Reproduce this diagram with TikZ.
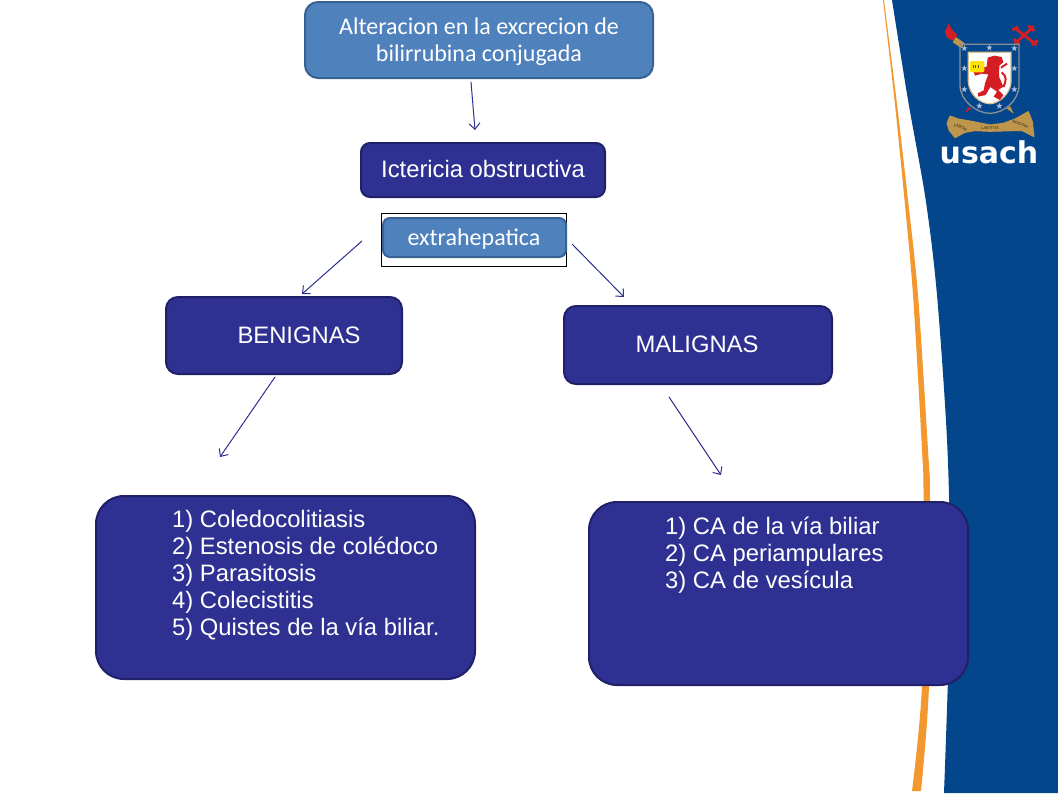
\documentclass[tikz,border=0pt]{standalone}
\usepackage{fontspec}
\setmainfont{Liberation Sans}
\newfontfamily\calibrifont{Carlito}
\newfontfamily\logofont{DejaVu Sans}
\usetikzlibrary{arrows.meta,shapes.geometric}
\definecolor{barblue}{RGB}{3,70,140}
\definecolor{barorange}{RGB}{242,152,46}
\definecolor{lightbox}{RGB}{79,129,189}
\definecolor{lightedge}{RGB}{56,98,146}
\definecolor{darkbox}{RGB}{46,49,146}
\definecolor{darkedge}{RGB}{32,32,104}
\definecolor{crestgold}{RGB}{190,150,75}
\definecolor{crestred}{RGB}{212,30,36}
\definecolor{creststar}{RGB}{170,185,215}
\tikzset{
  lightnode/.style={draw=lightedge,line width=2pt,fill=lightbox,inner sep=0pt},
  lighttext/.style={text=white,font=\calibrifont\fontsize{24}{27}\selectfont,align=center,inner sep=0pt},
  darknode/.style={draw=darkedge,line width=2pt,fill=darkbox,inner sep=0pt},
  boxtext/.style={text=white,font=\fontsize{23.8}{27}\selectfont,inner sep=0pt},
  listtext/.style={text=white,font=\fontsize{23.8}{26.8}\selectfont,align=left,
    inner sep=0pt,anchor=north west},
  flecha/.style={draw=darkbox,line width=1pt,-{Straight Barb[length=6pt,width=11pt]}},
  crestmark/.style={star,star points=5,star point ratio=2.4,fill=creststar,
    inner sep=0pt,minimum size=6.5pt},
  mottotext/.style={text=black!85,font=\fontsize{4}{4}\selectfont,inner sep=0pt}
}
\begin{document}
\begin{tikzpicture}[x=1pt,y=-1pt]
\useasboundingbox (0,0) rectangle (1058,793);
\fill[white] (0,0) rectangle (1058,793);

% The blue bar and the orange stripe
\fill[barblue] plot[smooth] coordinates {(892,0) (908,100) (925.7,200) (937,295) (947.5,450) (950,600) (944,793)}
  -- (1058,793) -- (1058,0) -- cycle;
\fill[barorange] plot[smooth] coordinates {(883,0) (894.5,100) (904.5,200) (913,295) (922,450) (923.5,500) (922,685) (912,791)}
  -- plot[smooth] coordinates {(921,791) (929,685) (930,500) (928,450) (918,295) (908,200) (896.5,100) (884,0)} -- cycle;

% The crest, in pixels of a crop of it
\begin{scope}[shift={(935,15)},scale=1/3]
  \fill[crestred] (40,25) -- (30,52) -- (38,70) -- (60,78) -- (66,60) -- (50,42) -- cycle;
  \draw[crestgold,line width=6pt] (58,74) -- (84,92);
  \draw[crestred,line width=2.8pt] (238,38) -- (305,90) (240,86) -- (296,34);
  \draw[crestred,line width=2.8pt] (280,32) -- (298,48) (232,45) -- (250,36) (290,90) -- (308,76) (236,72) -- (254,88);
  \fill[crestred] (92,292) -- (98,277) -- (110,280) -- cycle;
  \fill[crestgold] (214,280) -- (226,274) -- (236,296) -- cycle;
  \draw[gray!75!creststar,line width=1.3pt] (75,88) -- (252,88) -- (252,210)
    .. controls (252,258) and (205,295) .. (165,295) .. controls (125,295) and (75,258) .. (75,210) -- cycle;
  \fill[crestgold!60!white] (98,110) -- (230,110) -- (230,200)
    .. controls (228,240) and (190,268) .. (165,268) .. controls (135,268) and (100,240) .. (98,200) -- cycle;
  \fill[white] (102,114) -- (226,114) -- (226,200)
    .. controls (224,238) and (188,264) .. (165,264) .. controls (138,264) and (104,238) .. (102,200) -- cycle;
  % The lion
  \fill[crestred] (158,128) -- (178,122) -- (200,126) -- (205,142) -- (193,152) -- (192,185)
    -- (205,215) -- (190,225) -- (205,240) -- (195,255) -- (176,245) -- (186,230) -- (166,216)
    -- (152,240) -- (130,245) -- (128,235) -- (146,226) -- (150,205) -- (160,178) -- (140,176)
    -- (120,182) -- (115,168) -- (136,160) -- (155,155) -- cycle;
  \draw[crestred,line width=2pt] (198,158) -- (216,146) (200,172) .. controls (216,182) and (214,200) .. (205,216);
  \fill[yellow!85!orange,rounded corners=2pt] (105,138) rectangle (148,172);
  \draw[black!70,line width=0.7pt] (115,150) -- (115,160) (122,150) -- (122,160) (130,150) -- (130,160);
  % The stars
  \foreach \sx/\sy [count=\i] in {88/100,163/98,238/100,88/160,238/160,88/223,238/223,133/273,193/273}
    \node[crestmark] (star\i) at (\sx,\sy) {};
  % The ribbon
  \fill[crestgold,draw=crestgold,line width=1pt,line join=round] (45,303) -- (70,312) -- (105,318) -- (125,322) -- (165,330)
    -- (205,325) -- (240,312) -- (280,290) -- (292,320) -- (297,365) -- (262,347) -- (235,347)
    -- (165,349) -- (120,347) -- (90,352) -- (60,368) -- (42,345) -- (36,325) -- cycle;
  \node[mottotext,rotate=-22] (mottoa) at (76,337) {LABOR};
  \node[mottotext] (mottob) at (165,338) {LAETITIA};
  \node[mottotext,rotate=-24] (mottoc) at (256,328) {NOSTRA};
\end{scope}
\node[text=white,inner sep=0pt,font=\logofont\bfseries\fontsize{30}{30}\selectfont] (usach) at (989,152) {usach};

% The boxes
\node[lightnode,rounded corners=13pt,minimum width=348pt,minimum height=76pt] (alteracion) at (479,40) {};
\node[lighttext] (alteraciontxt) at (479,41.5) {Alteracion en la excrecion de\\bilirrubina conjugada};
\node[darknode,rounded corners=9pt,minimum width=244pt,minimum height=54pt] (ictericia) at (483,170) {};
\node[boxtext] (ictericiatxt) at (483,169) {Ictericia obstructiva};
\node[draw=black,line width=0.7pt,inner sep=0pt,minimum width=185pt,minimum height=53.5pt] (marco) at (474,239.7) {};
\node[lightnode,rounded corners=7pt,minimum width=183pt,minimum height=39pt] (extrahepatica) at (474.5,237.5) {};
\node[lighttext] (extrahepaticatxt) at (474,239.5) {extrahepatica};
\node[darknode,rounded corners=12pt,minimum width=236pt,minimum height=77pt] (benignas) at (284,335.5) {};
\node[boxtext] (benignastxt) at (299,335) {BENIGNAS};
\node[darknode,rounded corners=12pt,minimum width=268pt,minimum height=78pt] (malignas) at (698,345) {};
\node[boxtext] (malignastxt) at (697,344) {MALIGNAS};
\node[darknode,rounded corners=28pt,minimum width=379pt,minimum height=183pt] (benlista) at (285.5,587.5) {};
\node[listtext] (benlistatxt) at (172,510.5)
  {1) Coledocolitiasis\\2) Estenosis de colédoco\\3) Parasitosis\\4) Colecistitis\\5) Quistes de la vía biliar.};
\node[darknode,rounded corners=28pt,minimum width=379pt,minimum height=183pt] (mallista) at (778.5,593.5) {};
\node[listtext] (mallistatxt) at (665,517)
  {1) CA de la vía biliar\\2) CA periampulares\\3) CA de vesícula};

% The arrows
\coordinate (a1) at (471,82);
\coordinate (a2) at (475,130);
\coordinate (b1) at (362,241);
\coordinate (b2) at (302,294);
\coordinate (c1) at (572,244);
\coordinate (c2) at (624,297);
\coordinate (d1) at (275,377);
\coordinate (d2) at (220,457);
\coordinate (e1) at (669,397);
\coordinate (e2) at (721,475);
\draw[flecha] (a1) -- (a2);
\draw[flecha] (b1) -- (b2);
\draw[flecha] (c1) -- (c2);
\draw[flecha] (d1) -- (d2);
\draw[flecha] (e1) -- (e2);
\end{tikzpicture}
\end{document}
